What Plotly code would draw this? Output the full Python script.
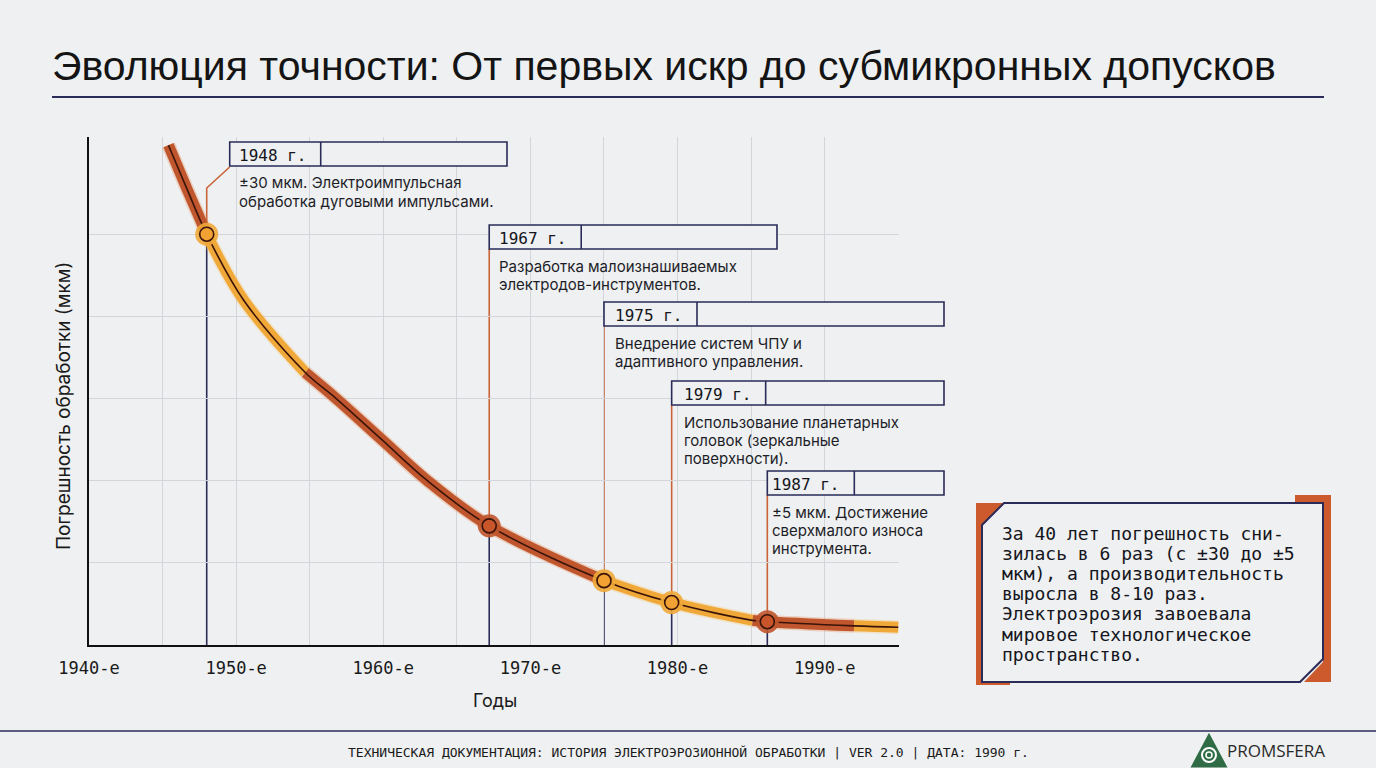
import plotly.graph_objects as go

# ---------------- data ----------------
curve_years = [1945.4, 1946.7, 1948.0, 1950.5, 1954.7, 1956.8, 1959.9, 1963.0,
               1967.2, 1975.0, 1979.6, 1985.1, 1986.1, 1992.0, 1995.0]
curve_error = [36.5, 33.2, 30.0, 25.2, 19.9, 18.0, 15.0, 12.0,
               8.7, 4.7, 3.1, 1.8, 1.7, 1.4, 1.3]

milestone_x = [1948.0, 1967.2, 1975.0, 1979.6, 1986.1]
milestone_err = [30.0, 8.7, 4.7, 3.1, 1.7]
milestone_labels = ["1948 г.", "1967 г.", "1975 г.", "1979 г.", "1987 г."]
milestone_text = [
    ["±30 мкм. Электроимпульсная", "обработка дуговыми импульсами."],
    ["Разработка малоизнашиваемых", "электродов-инструментов."],
    ["Внедрение систем ЧПУ и", "адаптивного управления."],
    ["Использование планетарных", "головок (зеркальные", "поверхности)."],
    ["±5 мкм. Достижение", "сверхмалого износа", "инструмента."],
]

tick_years = [1940, 1945, 1950, 1955, 1960, 1965, 1970, 1975, 1980, 1985, 1990, 1995]
tick_text = ["1940-е", "", "1950-е", "", "1960-е", "", "1970-е", "", "1980-е", "", "1990-е", ""]

summary_lines = [
    "За 40 лет погрешность сни-",
    "зилась в 6 раз (с ±30 до ±5",
    "мкм), а производительность",
    "выросла в 8-10 раз.",
    "Электроэрозия завоевала",
    "мировое технологическое",
    "пространство.",
]

title_text = "Эволюция точности: От первых искр до субмикронных допусков"
footer_text = "ТЕХНИЧЕСКАЯ ДОКУМЕНТАЦИЯ: ИСТОРИЯ ЭЛЕКТРОЭРОЗИОННОЙ ОБРАБОТКИ | VER 2.0 | ДАТА: 1990 г."

# ---------------- styling / layout ----------------
W, H = 1376, 768
PL, PR, PT, PB = 89, 899, 137, 645          # plot area in pixels
XR = (1940, 1995.05)
YMAX = 37.1

BG = "#eef0f1"
NAVY = "#2a2b58"
GRID = "#d3d5db"
DARK = "#c0562d"
DARK_GLOW = "#e8864a"
ORNG = "#f0a838"
ORNG_GLOW = "#f8c770"
CORE = "#3a140a"
CONN = "#c9643a"
MONO = "DejaVu Sans Mono"
SANS = "Inter"


def X(px):
    return (px - PL) / (PR - PL)


def Y(py):
    return (PB - py) / (PB - PT)


def data_px(x):
    return PL + (x - XR[0]) * (PR - PL) / (XR[1] - XR[0])


def data_py(y):
    return PB - y / YMAX * (PB - PT)


fig = go.Figure()

# band segments (alternating colours)
seg_idx = [0, 2, 4, 9, 11, 13, 14]
seg_col = [(DARK, DARK_GLOW), (ORNG, ORNG_GLOW), (DARK, DARK_GLOW),
           (ORNG, ORNG_GLOW), (DARK, DARK_GLOW), (ORNG, ORNG_GLOW)]
for k in range(len(seg_idx) - 1):
    a, b = seg_idx[k], seg_idx[k + 1] + 1
    fig.add_trace(go.Scatter(x=curve_years[a:b], y=curve_error[a:b], mode="lines",
                             line=dict(color=seg_col[k][1], width=14, shape="spline"),
                             opacity=0.3, hoverinfo="skip", showlegend=False))
for k in range(len(seg_idx) - 1):
    a, b = seg_idx[k], seg_idx[k + 1] + 1
    fig.add_trace(go.Scatter(x=curve_years[a:b], y=curve_error[a:b], mode="lines",
                             line=dict(color=seg_col[k][0], width=11, shape="spline"),
                             hoverinfo="skip", showlegend=False))
fig.add_trace(go.Scatter(x=curve_years, y=curve_error, mode="lines",
                         line=dict(color=CORE, width=1.6, shape="spline"),
                         hoverinfo="skip", showlegend=False))

m_halo = [ORNG, DARK, ORNG, ORNG, DARK]
m_fill = ["#f2a232", "#c8562a", "#f2a232", "#f2a232", "#c8562a"]
fig.add_trace(go.Scatter(x=milestone_x, y=milestone_err, mode="markers",
                         marker=dict(size=23, color=m_halo, opacity=0.9, line=dict(width=0)),
                         hoverinfo="skip", showlegend=False))
fig.add_trace(go.Scatter(x=milestone_x, y=milestone_err, mode="markers",
                         marker=dict(size=14, color=m_fill, line=dict(color=CORE, width=1.6)),
                         hoverinfo="skip", showlegend=False))

shapes = []
annotations = []

box_top = [142, 225, 302, 381, 471]
box_right = [507, 777, 944, 944, 944]
box_offset = [23, 0, 0, 0, 0]
box_pad = [9, 10, 11, 12, 5]
BOX_H = 24
LINE_H = 18

for i in range(len(milestone_x)):
    mx = data_px(milestone_x[i])
    my = data_py(milestone_err[i])
    L = mx + box_offset[i]
    T = box_top[i]
    R = box_right[i]
    lines = milestone_text[i]
    first_c = T + BOX_H + 17
    bg_bottom = first_c + (len(lines) - 1) * LINE_H + 13
    # background behind text (hides grid)
    shapes.append(dict(type="rect", xref="paper", yref="paper", x0=X(L), x1=X(R),
                       y0=Y(T), y1=Y(bg_bottom), fillcolor=BG, line=dict(width=0),
                       layer="between"))
    # navy drop line
    shapes.append(dict(type="line", xref="paper", yref="paper", x0=X(mx), x1=X(mx),
                       y0=Y(PB), y1=Y(my), line=dict(color=NAVY, width=1.6), layer="between"))
    # orange connector
    if box_offset[i] == 0:
        shapes.append(dict(type="line", xref="paper", yref="paper", x0=X(mx), x1=X(mx),
                           y0=Y(T + BOX_H), y1=Y(my), line=dict(color=CONN, width=1.6),
                           layer="between"))
    else:
        path = "M {},{} L {},{} L {},{}".format(X(mx), Y(my), X(mx), Y(T + BOX_H + 22),
                                                X(L), Y(T + BOX_H + 1))
        shapes.append(dict(type="path", xref="paper", yref="paper", path=path,
                           line=dict(color=CONN, width=1.6), layer="between"))
    # header box
    shapes.append(dict(type="rect", xref="paper", yref="paper", x0=X(L), x1=X(R),
                       y0=Y(T), y1=Y(T + BOX_H), fillcolor=BG,
                       line=dict(color=NAVY, width=1.6), layer="above"))
    dv = L + box_pad[i] + 82
    shapes.append(dict(type="line", xref="paper", yref="paper", x0=X(dv), x1=X(dv),
                       y0=Y(T), y1=Y(T + BOX_H), line=dict(color=NAVY, width=1.6),
                       layer="above"))
    annotations.append(dict(xref="paper", yref="paper", x=X(L + box_pad[i] - 2),
                            y=Y(T + BOX_H / 2 + 1), text=milestone_labels[i],
                            showarrow=False, xanchor="left", yanchor="middle",
                            font=dict(family=MONO, size=16, color="#151520")))
    for j, ln in enumerate(lines):
        annotations.append(dict(xref="paper", yref="paper", x=X(L + box_pad[i] - 2),
                                y=Y(first_c + j * LINE_H), text=ln, showarrow=False,
                                xanchor="left", yanchor="middle",
                                font=dict(family=SANS, size=15, color="#1d1d28")))

# ---------------- title & footer ----------------
annotations.append(dict(xref="paper", yref="paper", x=X(50), y=Y(66), text=title_text,
                        showarrow=False, xanchor="left", yanchor="middle",
                        font=dict(family="Liberation Sans", size=41, color="#141414")))
shapes.append(dict(type="line", xref="paper", yref="paper", x0=X(52), x1=X(1324),
                   y0=Y(97), y1=Y(97), line=dict(color=NAVY, width=2)))
shapes.append(dict(type="line", xref="paper", yref="paper", x0=X(0), x1=X(W),
                   y0=Y(731), y1=Y(731), line=dict(color=NAVY, width=1.5)))
annotations.append(dict(xref="paper", yref="paper", x=X(688), y=Y(752), text=footer_text,
                        showarrow=False, xanchor="center", yanchor="middle",
                        font=dict(family=MONO, size=13, color="#1a1a1a")))
# logo
shapes.append(dict(type="path", xref="paper", yref="paper",
                   path="M {},{} L {},{} L {},{} Z".format(X(1209), Y(736), X(1225), Y(766),
                                                          X(1193), Y(766)),
                   fillcolor="#2f6c46", line=dict(color="#2f6c46", width=3)))
shapes.append(dict(type="circle", xref="paper", yref="paper", x0=X(1202), x1=X(1216),
                   y0=Y(748), y1=Y(762), line=dict(color="white", width=2)))
shapes.append(dict(type="circle", xref="paper", yref="paper", x0=X(1206), x1=X(1212),
                   y0=Y(752), y1=Y(758), line=dict(color="white", width=1.5)))
annotations.append(dict(xref="paper", yref="paper", x=X(1225), y=Y(750), text="PROMSFERA",
                        showarrow=False, xanchor="left", yanchor="middle",
                        font=dict(family="Open Sans", size=17, color="#2a2a2a")))

# axis titles
annotations.append(dict(xref="paper", yref="paper", x=X(63), y=Y(406),
                        text="Погрешность обработки (мкм)", textangle=-90, showarrow=False,
                        xanchor="center", yanchor="middle",
                        font=dict(family=SANS, size=19, color="#1a1a1a")))
annotations.append(dict(xref="paper", yref="paper", x=X(495), y=Y(700), text="Годы",
                        showarrow=False, xanchor="center", yanchor="middle",
                        font=dict(family=SANS, size=18, color="#1a1a1a")))

# ---------------- summary box ----------------
OR2 = "#cc5a2c"
shapes.append(dict(type="path", xref="paper", yref="paper",
                   path="M {},{} L {},{} L {},{} L {},{} L {},{} L {},{} L {},{} Z".format(
                       X(976), Y(503), X(1006), Y(503), X(984), Y(526), X(984), Y(678),
                       X(1010), Y(678), X(1010), Y(685), X(976), Y(685)),
                   fillcolor=OR2, line=dict(width=0), layer="above"))
shapes.append(dict(type="path", xref="paper", yref="paper",
                   path="M {},{} L {},{} L {},{} L {},{} L {},{} L {},{} L {},{} Z".format(
                       X(1295), Y(495), X(1331), Y(495), X(1331), Y(682), X(1304), Y(682),
                       X(1323), Y(662), X(1323), Y(502), X(1295), Y(502)),
                   fillcolor=OR2, line=dict(width=0), layer="above"))
shapes.append(dict(type="path", xref="paper", yref="paper",
                   path="M {},{} L {},{} L {},{} L {},{} L {},{} L {},{} Z".format(
                       X(1004), Y(503), X(1323), Y(503), X(1323), Y(659), X(1300), Y(682),
                       X(982), Y(682), X(982), Y(525)),
                   fillcolor=BG, line=dict(color=NAVY, width=2), layer="above"))
for j, ln in enumerate(summary_lines):
    annotations.append(dict(xref="paper", yref="paper", x=X(1000), y=Y(533 + j * 20.2),
                            text=ln, showarrow=False, xanchor="left", yanchor="middle",
                            font=dict(family=MONO, size=18, color="#151520")))

fig.update_layout(
    width=W, height=H,
    margin=dict(l=PL, r=W - PR, t=PT, b=H - PB),
    paper_bgcolor=BG, plot_bgcolor=BG,
    showlegend=False,
    shapes=shapes,
    annotations=annotations,
    xaxis=dict(range=list(XR), tickmode="array", tickvals=tick_years, ticktext=tick_text,
               showgrid=True, gridcolor=GRID, gridwidth=1, zeroline=False,
               showline=True, linecolor="#111111", linewidth=2, ticks="",
               ticklabelstandoff=7,
               tickfont=dict(family=MONO, size=17, color="#1a1a1a")),
    yaxis=dict(range=[0, YMAX], tickmode="array", tickvals=[6, 12, 18, 24, 30, YMAX],
               showticklabels=False, showgrid=True, gridcolor=GRID, gridwidth=1,
               zeroline=False, showline=True, linecolor="#111111", linewidth=2, ticks=""),
)

fig.write_html("out.html")
